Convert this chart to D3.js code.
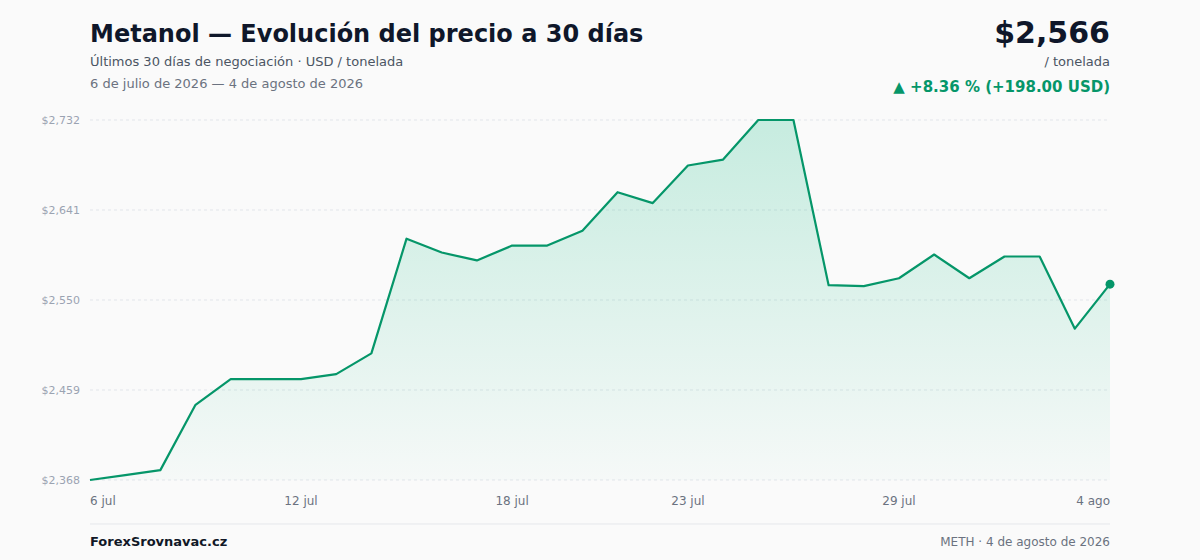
<!DOCTYPE html>
<html>
<head>
<meta charset="utf-8">
<script src="https://cdn.jsdelivr.net/npm/d3@7"></script>
<style>
  html, body { margin: 0; padding: 0; background: #fafafa; }
  svg { display: block; font-family: "DejaVu Sans", sans-serif; }
</style>
</head>
<body>
<div id="chart"></div>
<script>
// 30 daily prices, 6 jul 2026 .. 4 ago 2026 (USD / tonelada)
const days = d3.range(30).map(i => new Date(2026, 6, 6 + i));
const prices = [2368, 2373, 2378, 2444, 2470, 2470, 2470, 2475, 2496, 2612,
                2598, 2590, 2605, 2605, 2620, 2659, 2648, 2686, 2692, 2732,
                2732, 2565, 2564, 2572, 2596, 2572, 2594, 2594, 2521, 2566];
const tickIdx = [0, 6, 12, 17, 23, 29];
const months = ["ene","feb","mar","abr","may","jun","jul","ago","sep","oct","nov","dic"];

const W = 1200, H = 560;
const margin = { top: 120, right: 90, bottom: 80, left: 90 };
const innerW = W - margin.left - margin.right,
      innerH = H - margin.top - margin.bottom;

const green = "#059669";
const data = days.map((d, i) => ({ date: d, value: prices[i] }));

const svg = d3.select("#chart").append("svg")
    .attr("width", W).attr("height", H);

svg.append("rect").attr("width", W).attr("height", H).attr("fill", "#fafafa");

const defs = svg.append("defs");
const grad = defs.append("linearGradient")
    .attr("id", "areaGrad").attr("x1", 0).attr("y1", 0).attr("x2", 0).attr("y2", 1);
grad.append("stop").attr("offset", "0%").attr("stop-color", "#10b981").attr("stop-opacity", 0.22);
grad.append("stop").attr("offset", "100%").attr("stop-color", "#10b981").attr("stop-opacity", 0.02);

const g = svg.append("g")
    .attr("transform", "translate(" + margin.left + "," + margin.top + ")");

const x = d3.scaleTime()
    .range([0, innerW])
    .domain(d3.extent(days));

const yMin = d3.min(prices), yMax = d3.max(prices);
const y = d3.scaleLinear()
    .range([innerH, 0])
    .domain([yMin, yMax]);
const yTicks = d3.range(5).map(k => yMin + k * (yMax - yMin) / 4);
const fmt = d3.format(",.0f");

// grid + y labels
g.append("g").selectAll("line")
    .data(yTicks)
    .enter().append("line")
    .attr("x1", 0).attr("x2", innerW)
    .attr("y1", d => y(d)).attr("y2", d => y(d))
    .attr("stroke", "#e2e5ea")
    .attr("stroke-dasharray", "3,3");

g.append("g").selectAll("text")
    .data(yTicks)
    .enter().append("text")
    .attr("x", -10)
    .attr("y", d => y(d))
    .attr("dy", "0.35em")
    .attr("text-anchor", "end")
    .attr("fill", "#9aa3b2")
    .style("font-size", "11px")
    .text(d => "$" + fmt(d));

// x labels
g.append("g").selectAll("text")
    .data(tickIdx)
    .enter().append("text")
    .attr("x", i => x(days[i]))
    .attr("y", innerH + 25)
    .attr("text-anchor", (i, k) => k === 0 ? "start" : (k === tickIdx.length - 1 ? "end" : "middle"))
    .attr("fill", "#6b7280")
    .style("font-size", "12px")
    .text(i => days[i].getDate() + " " + months[days[i].getMonth()]);

// area + line
const area = d3.area()
    .x(d => x(d.date))
    .y0(innerH)
    .y1(d => y(d.value));
g.append("path").datum(data)
    .attr("d", area)
    .attr("fill", "url(#areaGrad)");

const line = d3.line()
    .x(d => x(d.date))
    .y(d => y(d.value));
g.append("path").datum(data)
    .attr("d", line)
    .attr("fill", "none")
    .attr("stroke", green)
    .attr("stroke-width", 2.2)
    .attr("stroke-linejoin", "round");

const last = data[data.length - 1];
g.append("circle")
    .attr("cx", x(last.date)).attr("cy", y(last.value))
    .attr("r", 4.5).attr("fill", green);

// header
const first = data[0];
const diff = last.value - first.value;
const pct = diff / first.value * 100;

svg.append("text").attr("x", 90).attr("y", 42)
    .attr("fill", "#0f172a").style("font-size", "24px").style("font-weight", "bold")
    .text("Metanol — Evolución del precio a 30 días");
svg.append("text").attr("x", 90).attr("y", 66)
    .attr("fill", "#4b5563").style("font-size", "13px")
    .text("Últimos 30 días de negociación · USD / tonelada");
svg.append("text").attr("x", 90).attr("y", 88)
    .attr("fill", "#6b7280").style("font-size", "13px")
    .text("6 de julio de 2026 — 4 de agosto de 2026");

svg.append("text").attr("x", 1110).attr("y", 43)
    .attr("text-anchor", "end")
    .attr("fill", "#0f172a").style("font-size", "30px").style("font-weight", "bold")
    .text("$" + fmt(last.value));
svg.append("text").attr("x", 1110).attr("y", 66)
    .attr("text-anchor", "end")
    .attr("fill", "#4b5563").style("font-size", "13px")
    .text("/ tonelada");
svg.append("text").attr("x", 1110).attr("y", 92)
    .attr("text-anchor", "end")
    .attr("fill", green).style("font-size", "15px").style("font-weight", "bold")
    .text("▲ +" + pct.toFixed(2) + " % (+" + diff.toFixed(2) + " USD)");

// footer
svg.append("line")
    .attr("x1", 90).attr("x2", 1110).attr("y1", 524).attr("y2", 524)
    .attr("stroke", "#e5e7eb").attr("stroke-width", 1);
svg.append("text").attr("x", 90).attr("y", 546)
    .attr("fill", "#111827").style("font-size", "13px").style("font-weight", "bold")
    .text("ForexSrovnavac.cz");
svg.append("text").attr("x", 1110).attr("y", 546)
    .attr("text-anchor", "end")
    .attr("fill", "#6b7280").style("font-size", "12px")
    .text("METH · 4 de agosto de 2026");
</script>
</body>
</html>
